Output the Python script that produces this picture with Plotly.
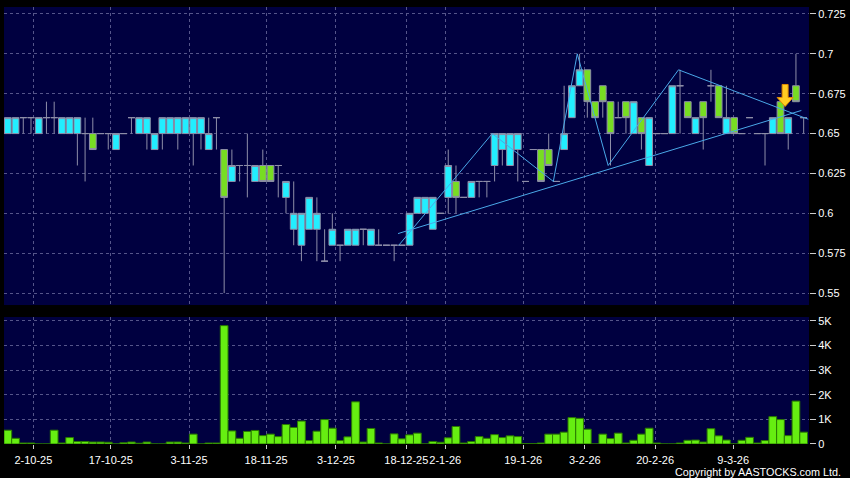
import plotly.graph_objects as go

# ---- daily OHLC (index = trading day) ----
open_ = [0.65, 0.65, 0.66, 0.66, 0.65, 0.66, 0.66, 0.65, 0.65, 0.65,
         0.65, 0.65, 0.65, 0.65, 0.64, 0.65, 0.66, 0.65, 0.65, 0.64,
         0.65, 0.65, 0.65, 0.65, 0.65, 0.65, 0.64, 0.66, 0.64, 0.62,
         0.63, 0.63, 0.62, 0.63, 0.63, 0.63, 0.61, 0.59, 0.58, 0.59,
         0.59, 0.57, 0.58, 0.58, 0.58, 0.58, 0.59, 0.58, 0.58, 0.58,
         0.58, 0.58, 0.58, 0.60, 0.60, 0.59, 0.60, 0.61, 0.62, 0.61,
         0.61, 0.62, 0.62, 0.63, 0.64, 0.63, 0.64, 0.62, 0.64, 0.64,
         0.64, 0.62, 0.64, 0.66, 0.68, 0.69, 0.67, 0.68, 0.67, 0.66,
         0.67, 0.65, 0.66, 0.63, 0.65, 0.65, 0.65, 0.68, 0.67, 0.65,
         0.67, 0.68, 0.68, 0.65, 0.66, 0.65, 0.66, 0.65, 0.65, 0.65,
         0.67, 0.65, 0.68, 0.66]
high = [0.66, 0.66, 0.66, 0.66, 0.66, 0.67, 0.67, 0.66, 0.66, 0.66,
        0.66, 0.66, 0.65, 0.65, 0.65, 0.65, 0.66, 0.66, 0.66, 0.65,
        0.66, 0.66, 0.66, 0.66, 0.66, 0.66, 0.66, 0.66, 0.64, 0.64,
        0.63, 0.65, 0.63, 0.64, 0.63, 0.63, 0.62, 0.62, 0.60, 0.61,
        0.61, 0.59, 0.60, 0.58, 0.59, 0.59, 0.59, 0.59, 0.59, 0.58,
        0.58, 0.58, 0.60, 0.61, 0.61, 0.61, 0.60, 0.64, 0.63, 0.61,
        0.62, 0.62, 0.62, 0.65, 0.65, 0.65, 0.65, 0.62, 0.64, 0.64,
        0.65, 0.62, 0.68, 0.68, 0.70, 0.69, 0.67, 0.68, 0.67, 0.67,
        0.67, 0.67, 0.66, 0.66, 0.65, 0.65, 0.68, 0.69, 0.67, 0.66,
        0.67, 0.69, 0.68, 0.68, 0.66, 0.65, 0.66, 0.65, 0.65, 0.66,
        0.67, 0.66, 0.70, 0.66]
low = [0.65, 0.65, 0.65, 0.65, 0.65, 0.65, 0.65, 0.65, 0.65, 0.63,
       0.62, 0.64, 0.65, 0.64, 0.64, 0.65, 0.65, 0.65, 0.64, 0.64,
       0.64, 0.65, 0.64, 0.65, 0.63, 0.64, 0.64, 0.64, 0.55, 0.62,
       0.62, 0.61, 0.62, 0.62, 0.62, 0.61, 0.60, 0.58, 0.57, 0.59,
       0.57, 0.57, 0.58, 0.57, 0.58, 0.58, 0.58, 0.58, 0.58, 0.58,
       0.57, 0.58, 0.58, 0.60, 0.60, 0.59, 0.60, 0.60, 0.60, 0.61,
       0.61, 0.61, 0.61, 0.62, 0.63, 0.63, 0.62, 0.62, 0.64, 0.62,
       0.63, 0.62, 0.64, 0.66, 0.68, 0.66, 0.66, 0.66, 0.63, 0.66,
       0.65, 0.65, 0.64, 0.63, 0.65, 0.65, 0.65, 0.65, 0.66, 0.65,
       0.64, 0.67, 0.66, 0.65, 0.65, 0.65, 0.66, 0.65, 0.63, 0.65,
       0.65, 0.64, 0.67, 0.65]
close = [0.66, 0.66, 0.66, 0.66, 0.66, 0.66, 0.66, 0.66, 0.66, 0.66,
         0.65, 0.64, 0.65, 0.65, 0.65, 0.65, 0.66, 0.66, 0.66, 0.65,
         0.66, 0.66, 0.66, 0.66, 0.66, 0.66, 0.65, 0.66, 0.61, 0.63,
         0.63, 0.63, 0.63, 0.62, 0.62, 0.63, 0.62, 0.60, 0.60, 0.61,
         0.60, 0.57, 0.59, 0.58, 0.59, 0.59, 0.59, 0.59, 0.58, 0.58,
         0.58, 0.58, 0.60, 0.61, 0.61, 0.61, 0.60, 0.63, 0.61, 0.61,
         0.62, 0.62, 0.62, 0.65, 0.65, 0.65, 0.65, 0.62, 0.64, 0.62,
         0.63, 0.62, 0.65, 0.68, 0.69, 0.67, 0.66, 0.67, 0.65, 0.66,
         0.66, 0.67, 0.65, 0.66, 0.65, 0.65, 0.68, 0.68, 0.66, 0.66,
         0.66, 0.68, 0.66, 0.66, 0.65, 0.65, 0.66, 0.65, 0.65, 0.66,
         0.65, 0.66, 0.67, 0.66]
# ---- daily volume, in thousands ----
volume_k = [0.56, 0.23, 0.04, 0.04, 0.0, 0.0, 0.56, 0.04, 0.26, 0.10,
            0.10, 0.08, 0.08, 0.07, 0.0, 0.05, 0.08, 0.03, 0.08, 0.0,
            0.0, 0.08, 0.08, 0.04, 0.40, 0.0, 0.04, 0.04, 4.80, 0.53,
            0.23, 0.51, 0.55, 0.34, 0.40, 0.30, 0.79, 0.67, 0.93, 0.14,
            0.52, 0.99, 0.64, 0.14, 0.29, 1.71, 0.08, 0.63, 0.04, 0.0,
            0.41, 0.21, 0.37, 0.44, 0.0, 0.10, 0.07, 0.25, 0.71, 0.04,
            0.10, 0.30, 0.23, 0.38, 0.26, 0.33, 0.30, 0.01, 0.01, 0.04,
            0.40, 0.40, 0.48, 1.07, 1.04, 0.60, 0.0, 0.40, 0.22, 0.44,
            0.04, 0.15, 0.40, 0.64, 0.04, 0.0, 0.0, 0.04, 0.15, 0.16,
            0.08, 0.62, 0.33, 0.16, 0.0, 0.15, 0.27, 0.04, 0.14, 1.11,
            0.99, 0.34, 1.74, 0.48]
day_index = list(range(len(close)))

# ---- date tick labels (position in trading-day index) ----
tick_pos = [3.31, 13.32, 23.45, 33.43, 42.47, 51.57, 56.61, 66.70, 74.67, 83.77, 93.88]
tick_labels = ["2-10-25", "17-10-25", "3-11-25", "18-11-25", "3-12-25", "18-12-25",
               "2-1-26", "19-1-26", "3-2-26", "20-2-26", "9-3-26"]

price_ticks = [0.55, 0.575, 0.6, 0.625, 0.65, 0.675, 0.7, 0.725]
price_labels = ["0.55", "0.575", "0.6", "0.625", "0.65", "0.675", "0.7", "0.725"]
vol_ticks = [0, 1, 2, 3, 4, 5]
vol_labels = ["0", "1K", "2K", "3K", "4K", "5K"]

# ---- drawn studies ----
zig_idx = [50.6, 62.7, 70.6, 73.7, 77.7, 86.8, 103.6]
zig_price = [0.58, 0.65, 0.62, 0.70, 0.63, 0.69, 0.659]
trend_idx = [50.5, 102.7]
trend_price = [0.5873, 0.6645]
signal_idx = 100.6
signal_price = 0.667

NAVY = "#000040"
GRID = "#55558a"
WICK = "#8e8ea8"
LINE_BLUE = "#4aa8e8"

fig = go.Figure()
fig.add_trace(go.Bar(
    x=day_index, y=volume_k, width=1.0,
    marker=dict(color="#66ee11", line=dict(color="#2a7a00", width=1)),
    xaxis="x", yaxis="y", hoverinfo="skip"))
fig.add_trace(go.Candlestick(
    x=day_index, open=open_, high=high, low=low, close=close,
    increasing=dict(fillcolor="#22eeff", line=dict(color=WICK, width=1)),
    decreasing=dict(fillcolor="#77dd22", line=dict(color=WICK, width=1)),
    whiskerwidth=0, xaxis="x2", yaxis="y2", hoverinfo="skip"))
fig.add_trace(go.Scatter(x=zig_idx, y=zig_price, mode="lines",
                         line=dict(color=LINE_BLUE, width=1),
                         xaxis="x2", yaxis="y2", hoverinfo="skip"))
fig.add_trace(go.Scatter(x=trend_idx, y=trend_price, mode="lines",
                         line=dict(color=LINE_BLUE, width=1),
                         xaxis="x2", yaxis="y2", hoverinfo="skip"))

fig.add_shape(type="path", xref="x2", yref="y2",
              xsizemode="pixel", ysizemode="pixel",
              xanchor=signal_idx, yanchor=signal_price,
              path="M0,0 L-8,9 L-3,9 L-3,22 L3,22 L3,9 L8,9 Z",
              fillcolor="#ffcc22", line=dict(color="#e08a00", width=1))

xcommon = dict(range=[-0.494, 103.69], tickvals=tick_pos, showgrid=True,
               gridcolor=GRID, griddash="3px,3px", gridwidth=1,
               zeroline=False, showline=False)
ycommon = dict(side="right", showgrid=True, gridcolor=GRID, griddash="3px,3px",
               gridwidth=1, zeroline=False, showline=False, ticks="outside",
               ticklen=6, tickcolor="#cccccc",
               tickfont=dict(color="white", size=11))

fig.update_layout(
    width=850, height=478,
    paper_bgcolor="black", plot_bgcolor=NAVY,
    margin=dict(l=4, r=39, t=7, b=34),
    showlegend=False, boxgap=0.13, boxgroupgap=0,
    font=dict(family="Liberation Sans, Arial, sans-serif", size=11, color="white"),
    xaxis=dict(domain=[0, 1], anchor="y", ticktext=tick_labels, tickangle=0,
               ticks="outside", ticklen=4, tickcolor="#cccccc",
               ticklabelstandoff=2,
               tickfont=dict(color="white", size=11), **xcommon),
    xaxis2=dict(domain=[0, 1], anchor="y2", matches="x", showticklabels=False,
                ticks="", rangeslider=dict(visible=False), **xcommon),
    yaxis=dict(domain=[0, 0.2906], anchor="x", range=[0, 5.15],
               tickvals=vol_ticks, ticktext=vol_labels, **ycommon),
    yaxis2=dict(domain=[0.318, 1], anchor="x2", range=[0.5425, 0.72938],
                tickvals=price_ticks, ticktext=price_labels, **ycommon),
)

fig.add_annotation(text="Copyright by AASTOCKS.com Ltd.", xref="paper", yref="paper",
                   x=1.042, y=-0.064, xanchor="right", yanchor="middle",
                   showarrow=False, font=dict(size=10.8, color="white"))

fig.write_html("out.html", config={"displayModeBar": False},
               post_script="document.body.style.margin='0';")
